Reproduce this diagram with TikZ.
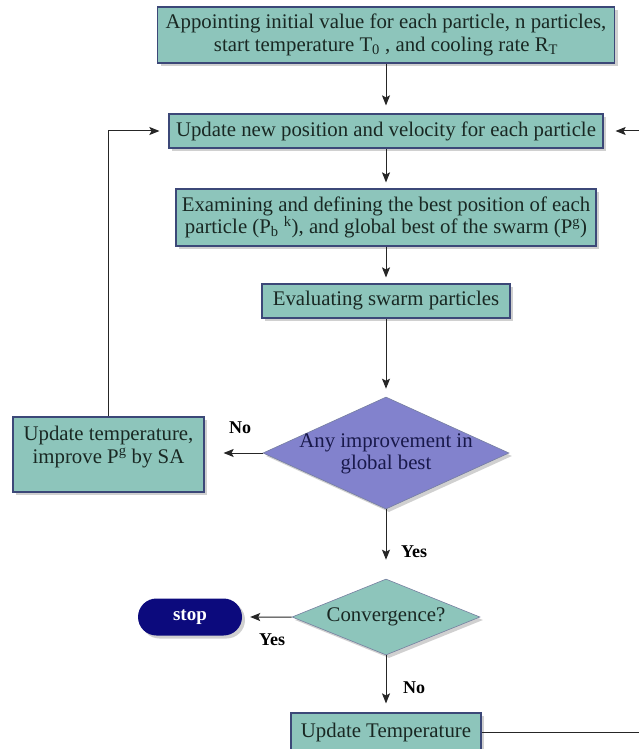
\documentclass[tikz,border=0pt]{standalone}
\usepackage{fontspec}
\setmainfont{Liberation Serif}
\usetikzlibrary{shapes.geometric,shapes.misc,arrows.meta,shadows}
\definecolor{tealfill}{RGB}{141,197,187}
\definecolor{boxline}{RGB}{60,72,120}
\definecolor{purpfill}{RGB}{130,130,205}
\definecolor{navyfill}{RGB}{12,10,125}
\definecolor{txtdark}{RGB}{25,40,35}
\definecolor{txtnavy}{RGB}{25,25,75}
\tikzset{
  shad/.style={drop shadow={shadow xshift=3pt,shadow yshift=-3pt,opacity=0.3,fill=black!60}},
  boxfont/.style={font=\fontsize{20.8}{22.5}\selectfont},
  procbox/.style={rectangle,draw=boxline,line width=1.2pt,fill=tealfill,shad,
    text=txtdark,align=center,inner sep=0pt,boxfont},
  decbox/.style={diamond,draw=boxline!70,line width=0.6pt,shad,aspect=2.2,
    inner sep=0pt,align=center,boxfont},
  stopbox/.style={rounded rectangle,fill=navyfill,shad,text=white,
    minimum width=104pt,minimum height=37pt,inner sep=0pt,
    font=\fontsize{19}{21}\selectfont\bfseries},
  lbl/.style={font=\fontsize{18}{20}\selectfont\bfseries,text=black,inner sep=0pt},
  arr/.style={-{Stealth[length=10pt,width=8pt,inset=2pt]},line width=1pt,black!85}
}
\begin{document}
\begin{tikzpicture}[x=1pt,y=-1pt]
\useasboundingbox (0,0) rectangle (639,749);
\fill[white] (0,0) rectangle (639,749);

\node[procbox,minimum width=457pt,minimum height=56pt] (b1) at (386,35)
  {Appointing initial value for each particle, n particles,\\
   start temperature T\textsubscript{0} , and cooling rate R\textsubscript{T}};
\node[procbox,minimum width=434pt,minimum height=34pt] (b2) at (386,131)
  {Update new position and velocity for each particle};
\node[procbox,minimum width=420pt,minimum height=57pt] (b3) at (386,217.5)
  {Examining and defining the best position of each\\
   particle (P\textsubscript{b} \textsuperscript{k}), and global best of the swarm (P\textsuperscript{g})};
\node[procbox,minimum width=248pt,minimum height=34pt] (b4) at (386,301)
  {Evaluating swarm particles};
\node[decbox,fill=purpfill,minimum width=246pt,minimum height=112pt] (d1) at (386,453) {};
\node[text=txtnavy,align=center,inner sep=0pt,boxfont] (d1t) at (386,454)
  {Any improvement in\\ global best};
\node[procbox,minimum width=191pt,minimum height=75pt,text height=46pt,text depth=29pt] (b5) at (108.5,454.5)
  {Update temperature,\\ improve P\textsuperscript{g} by SA};
\node[decbox,fill=tealfill,text=txtdark,minimum width=188pt,minimum height=76pt] (d2) at (386,617)
  {Convergence?};
\node[stopbox] (stop) at (190,617) {stop};
\node[procbox,minimum width=190pt,minimum height=38pt] (b6) at (386,732)
  {Update Temperature};

\coordinate (rc) at (639,400);

\draw[arr,shorten >=8pt] (b1) -- (b2);
\draw[arr,shorten >=6pt] (b2) -- (b3);
\draw[arr,shorten >=6pt] (b3) -- (b4);
\draw[arr,shorten >=8pt] (b4) -- (d1);
\draw[arr,shorten >=19pt] (d1) -- (d2);
\draw[arr,shorten >=9pt] (d2) -- (b6);
\draw[arr,shorten >=8pt] (d2.west) -- (stop);
\draw[arr,shorten >=19pt] (d1.west) -- (d1.west -| b5.east);
\draw[arr,shorten >=9pt] (b5.north) |- (b2.west);
\draw[arr,shorten >=12pt] (b6.east) -- (b6.east -| rc) |- (b2.east);

\node[lbl] (lno1) at (240,428) {No};
\node[lbl] (lyes1) at (414,552) {Yes};
\node[lbl] (lyes2) at (272,640) {Yes};
\node[lbl] (lno2) at (414,688) {No};
\end{tikzpicture}
\end{document}
